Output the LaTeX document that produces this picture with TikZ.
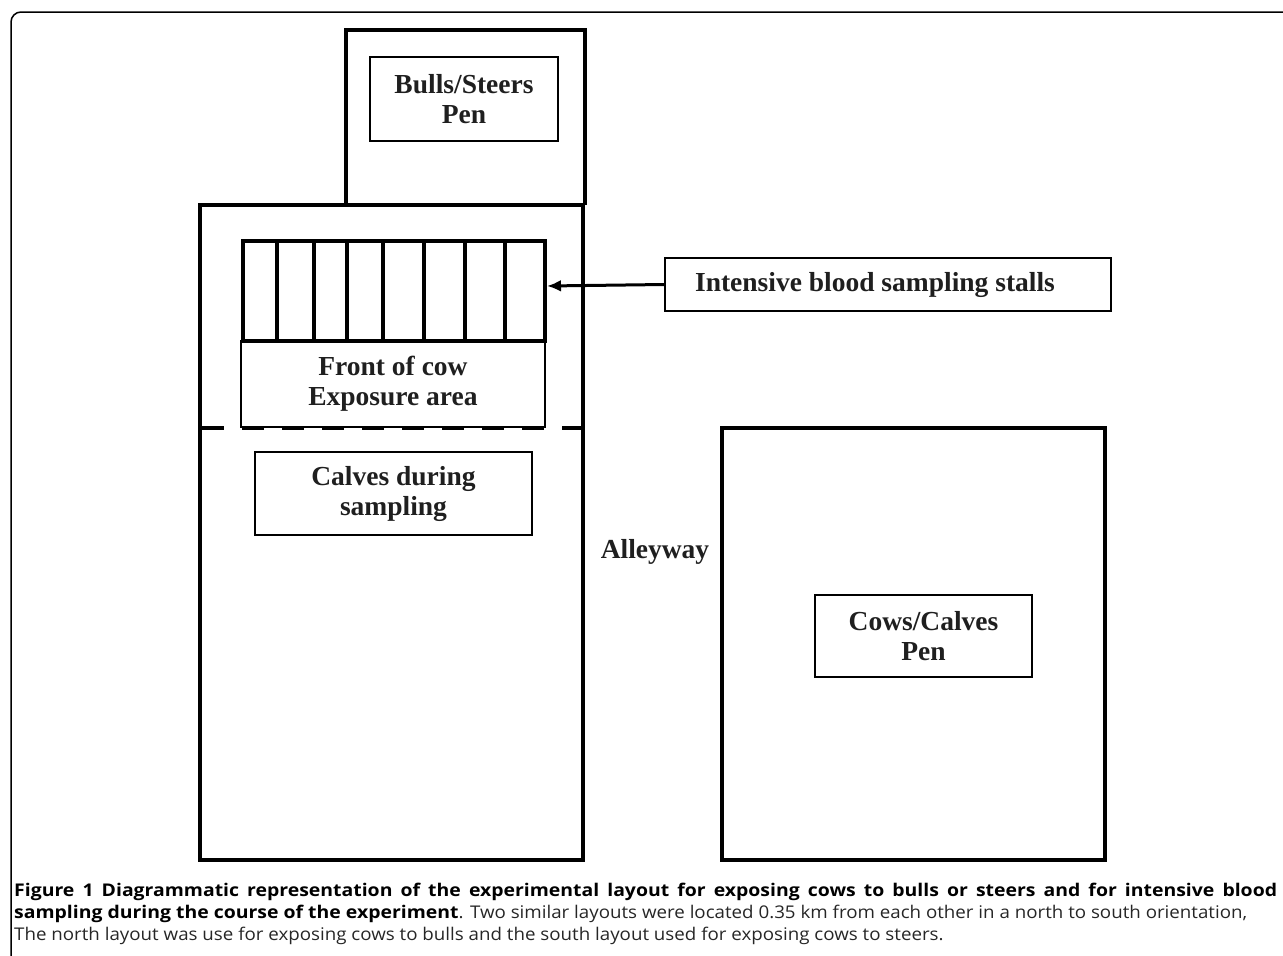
\documentclass[tikz,border=0pt]{standalone}
\usepackage{fontspec}
\usetikzlibrary{arrows.meta}
\setmainfont{Liberation Serif}
\newfontfamily\capfont[FakeStretch=1.07,BoldFeatures={FakeStretch=1.11}]{Open Sans}
\begin{document}
\begin{tikzpicture}[x=1pt,y=-1pt,
  wall/.style={draw=black,line width=4pt},
  lbl/.style={draw=black,line width=1.6pt},
  txt/.style={font=\fontsize{27.5}{30}\selectfont\bfseries,align=center,text=black!88},
  capline/.style={anchor=base west,inner sep=0pt,font=\capfont\fontsize{17.5}{22.5}\selectfont,text=black!85}]
\useasboundingbox (0,0) rectangle (1283,956);
\begin{scope}
\clip (0,0) rectangle (1283,956);
\draw[line width=1.5pt,rounded corners=10pt] (11,1100) -- (11,12) -- (1400,12);
\end{scope}
% bulls pen
\draw[wall] (346,205) -- (346,30) -- (585,30) -- (585,205);
\node[lbl,minimum width=188pt,minimum height=84pt,txt] (bulls) at (464,99) {Bulls/Steers\\Pen};
% main pen
\draw[wall] (200,205) rectangle (583,860);
% stalls
\draw[line width=3.5pt] (243,241) rectangle (545,341);
\foreach \x in {277,314,347,383,424,465,505}
  \draw[line width=3.5pt] (\x,241) -- (\x,341);
\coordinate (stallR) at (547,286);
\node[draw=black,line width=1.4pt,minimum width=304pt,minimum height=86pt,txt] (front) at (393,384) {Front of cow\\Exposure area};
\draw[line width=4.5pt,dash pattern=on 22pt off 18pt] (202,428) -- (583,428);
\node[lbl,minimum width=277pt,minimum height=83pt,txt] (calves) at (393.5,493.5) {Calves during\\sampling};
\node[txt] (alley) at (655,552) {Alleyway};
% cows pen
\draw[wall] (722,428) rectangle (1105,860);
\node[lbl,minimum width=217pt,minimum height=82pt,txt] (cows) at (923.5,636) {Cows/Calves\\Pen};
% intensive
\node[lbl,minimum width=446pt,minimum height=53pt,txt] (intens) at (888,284.5) {Intensive blood sampling stalls\hspace*{26pt}};
\draw[line width=3pt,-{Latex[length=14pt,width=12pt]}] (intens.west) -- (stallR);
% caption
\node[capline] (cap1) at (14,896) {\makebox[1263pt][s]{\color{black}\bfseries Figure 1 Diagrammatic representation of the experimental layout for exposing cows to bulls or steers and for intensive blood}};
\node[capline] (cap2) at (14,918) {{\color{black}\bfseries sampling during the course of the experiment}. Two similar layouts were located 0.35 km from each other in a north to south orientation,};
\node[capline] (cap3) at (14,940) {The north layout was use for exposing cows to bulls and the south layout used for exposing cows to steers.};
\end{tikzpicture}
\end{document}
